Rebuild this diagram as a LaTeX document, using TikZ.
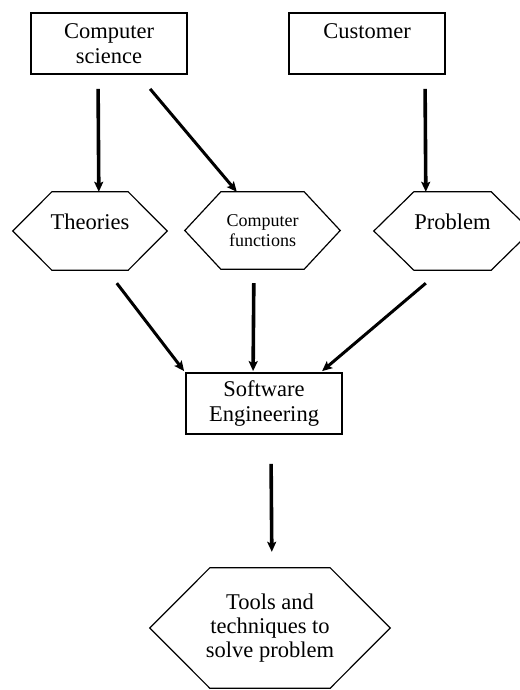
\documentclass[tikz,border=0pt]{standalone}
\usepackage{fontspec}
\setmainfont{Liberation Serif}
\usetikzlibrary{arrows.meta,calc}
\tikzset{
  box/.style={draw, line width=1.8bp, minimum width=156bp, minimum height=61bp, inner sep=0pt, align=center,
    font=\fontsize{22.5bp}{25.5bp}\selectfont},
  hexnode/.style={inner sep=0pt, align=center, font=\fontsize{22.5bp}{24bp}\selectfont},
  smalltext/.style={font=\fontsize{18bp}{20bp}\selectfont},
  arr/.style={line width=3.6bp, -{Stealth[length=10bp,width=9bp,inset=2bp]}},
  darr/.style={line width=3bp, -{Stealth[length=10bp,width=9bp,inset=2bp]}},
  hexline/.style={line width=1.2bp}
}
\newcommand{\hexa}[2]{%
  \draw[hexline] (#1.west) -- ($(#1.north west)+(#2,0)$) -- ($(#1.north east)+(-#2,0)$) -- (#1.east)
    -- ($(#1.south east)+(-#2,0)$) -- ($(#1.south west)+(#2,0)$) -- cycle;}
\begin{document}
\begin{tikzpicture}[x=1bp,y=-1bp]
\useasboundingbox (0,0) rectangle (520,690);
% boxes
\node[box] (cs) at (109,43.5) {Computer\\science};
\node[box] (cu) at (367,43.5) {Customer\\\mbox{}};
\node[box] (se) at (264,403.5) {Software\\Engineering};
% hexagons
\node[hexnode, minimum width=154bp, minimum height=78bp] (th) at (90,231) {\raisebox{18bp}{Theories}};
\hexa{th}{39}
\node[hexnode, smalltext, minimum width=155bp, minimum height=77bp] (cf) at (262.5,230.5) {Computer\\functions};
\hexa{cf}{36}
\node[hexnode, minimum width=157bp, minimum height=78bp] (pr) at (452.5,231) {\raisebox{18bp}{Problem}};
\hexa{pr}{40}
\node[hexnode, minimum width=240bp, minimum height=120bp] (tl) at (270,628) {Tools and\\techniques to\\solve problem};
\hexa{tl}{60}
% connectors
\draw[arr] ($(cs.south west)+(68,14)$) -- ($(th.north west)+(86,0)$);
\draw[darr] ($(cs.south west)+(120,14)$) -- ($(cf.north west)+(52,0)$);
\draw[arr] ($(cu.south west)+(137,14)$) -- ($(pr.north west)+(52,0)$);
\draw[darr] ($(th.south west)+(104,13)$) -- ($(se.north west)+(-1,-1)$);
\draw[arr] ($(cf.south west)+(69,14)$) -- ($(se.north west)+(68,-1)$);
\draw[darr] ($(pr.south west)+(52,13)$) -- ($(se.north west)+(137,-1)$);
\draw[arr] ($(se.south west)+(86,29)$) -- ($(tl.north west)+(122,-16)$);
\end{tikzpicture}
\end{document}
